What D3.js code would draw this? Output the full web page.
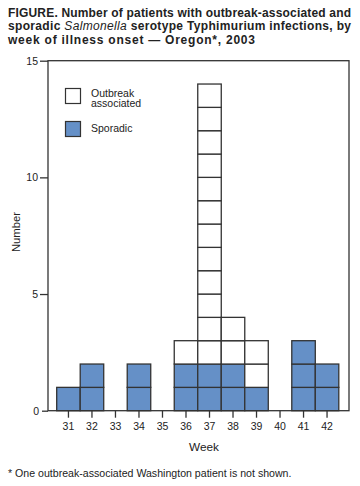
<!DOCTYPE html>
<html><head><meta charset="utf-8">
<script src="https://cdn.jsdelivr.net/npm/d3@7"></script>
<style>body{margin:0;background:#fff}svg{display:block}</style>
</head><body>
<script>
const weeks = ["31","32","33","34","35","36","37","38","39","40","41","42"];
const sporadic = [1,2,0,2,0,2,2,2,1,0,3,2];
const outbreak = [0,0,0,0,0,1,12,2,2,0,0,0];
const yTicks = [0,5,10,15];
const titleLines = ["FIGURE. Number of patients with outbreak-associated and",
  "sporadic <i>Salmonella</i> serotype Typhimurium infections, by",
  "week of illness onset \u2014 Oregon*, 2003"];

const W=360,H=486;
const svg=d3.select("body").append("svg").attr("width",W).attr("height",H)
  .style("font-family","'Liberation Sans',Arial,Helvetica,sans-serif");
const blue="#6590c7", ink="#333";
const fL=48, fR=349, fT=60.7, fB=410.7;
const x=d3.scaleBand().domain(weeks).range([56.7,338.8]).padding(0);
const y=d3.scaleLinear().domain([0,15]).range([fB,fT]);

// title
const tt=[12.5+4,26+4,39.5+4];
titleLines.forEach((l,i)=>{
  const t=svg.append("text").attr("x",8).attr("y",tt[i]).attr("font-size",12).attr("font-weight","bold").attr("fill","#222");
  const parts=l.split(/(<i>.*?<\/i>)/);
  parts.forEach(p=>{
    if(!p) return;
    const m=p.match(/<i>(.*)<\/i>/);
    t.append("tspan").text(m?m[1]:p).attr("font-style",m?"italic":null).attr("font-weight",m?"normal":null);
  });
  if(i<2){ t.attr("textLength",343).attr("lengthAdjust","spacing"); }
  else { t.attr("textLength",247).attr("lengthAdjust","spacing"); }
});

// cells
const cells=[];
weeks.forEach((w,i)=>{
  for(let k=0;k<sporadic[i];k++) cells.push({w,k,type:"s"});
  for(let k=0;k<outbreak[i];k++) cells.push({w,k:sporadic[i]+k,type:"o"});
});
svg.append("g").selectAll("rect").data(cells).join("rect")
  .attr("x",d=>x(d.w)).attr("width",x.bandwidth())
  .attr("y",d=>y(d.k+1)).attr("height",d=>y(d.k)-y(d.k+1))
  .attr("fill",d=>d.type==="s"?blue:"#fff").attr("stroke",ink).attr("stroke-width",1.3);

// frame
svg.append("rect").attr("x",fL).attr("y",fT).attr("width",fR-fL).attr("height",fB-fT)
  .attr("fill","none").attr("stroke",ink).attr("stroke-width",1.3);

// y axis
const ya=svg.append("g").attr("transform",`translate(${fL},0)`)
  .call(d3.axisLeft(y).tickValues(yTicks).tickSize(8).tickPadding(2));
ya.select(".domain").remove();
ya.selectAll("line").attr("stroke",ink).attr("stroke-width",1.3);
ya.selectAll("text").attr("font-size",10.5).attr("fill","#222").style("font-family","'Liberation Sans',Arial,sans-serif");
ya.selectAll(".tick").filter(d=>d===0).select("line").attr("x2",-6);
ya.selectAll(".tick").filter(d=>d===0).select("text").attr("x",-9);

// x axis
const xa=svg.append("g").attr("transform",`translate(0,${fB})`)
  .call(d3.axisBottom(x).tickSize(7).tickPadding(5));
xa.select(".domain").remove();
xa.selectAll("line").attr("stroke",ink).attr("stroke-width",1.3);
xa.selectAll("text").attr("font-size",10.5).attr("fill","#222").style("font-family","'Liberation Sans',Arial,sans-serif");

// axis labels
svg.append("text").attr("x",204).attr("y",451).attr("text-anchor","middle").attr("font-size",11.8).attr("fill","#222").text("Week");
svg.append("text").attr("transform","translate(20,232) rotate(-90)").attr("text-anchor","middle").attr("font-size",11.3).attr("fill","#222").text("Number");

// legend
svg.append("rect").attr("x",65.5).attr("y",88.5).attr("width",15).attr("height",15).attr("fill","#fff").attr("stroke",ink).attr("stroke-width",1.2);
svg.append("rect").attr("x",65.5).attr("y",121.5).attr("width",15).attr("height",15).attr("fill",blue).attr("stroke",ink).attr("stroke-width",1.2);
svg.append("text").attr("x",91).attr("y",96.5).attr("font-size",10.5).attr("fill","#222").text("Outbreak");
svg.append("text").attr("x",91).attr("y",107).attr("font-size",10.5).attr("fill","#222").text("associated");
svg.append("text").attr("x",91).attr("y",131.5).attr("font-size",10.5).attr("fill","#222").text("Sporadic");

// footnote
svg.append("text").attr("x",8).attr("y",476.5).attr("font-size",10.6).attr("fill","#222").text("* One outbreak-associated Washington patient is not shown.");
</script>
</body></html>
